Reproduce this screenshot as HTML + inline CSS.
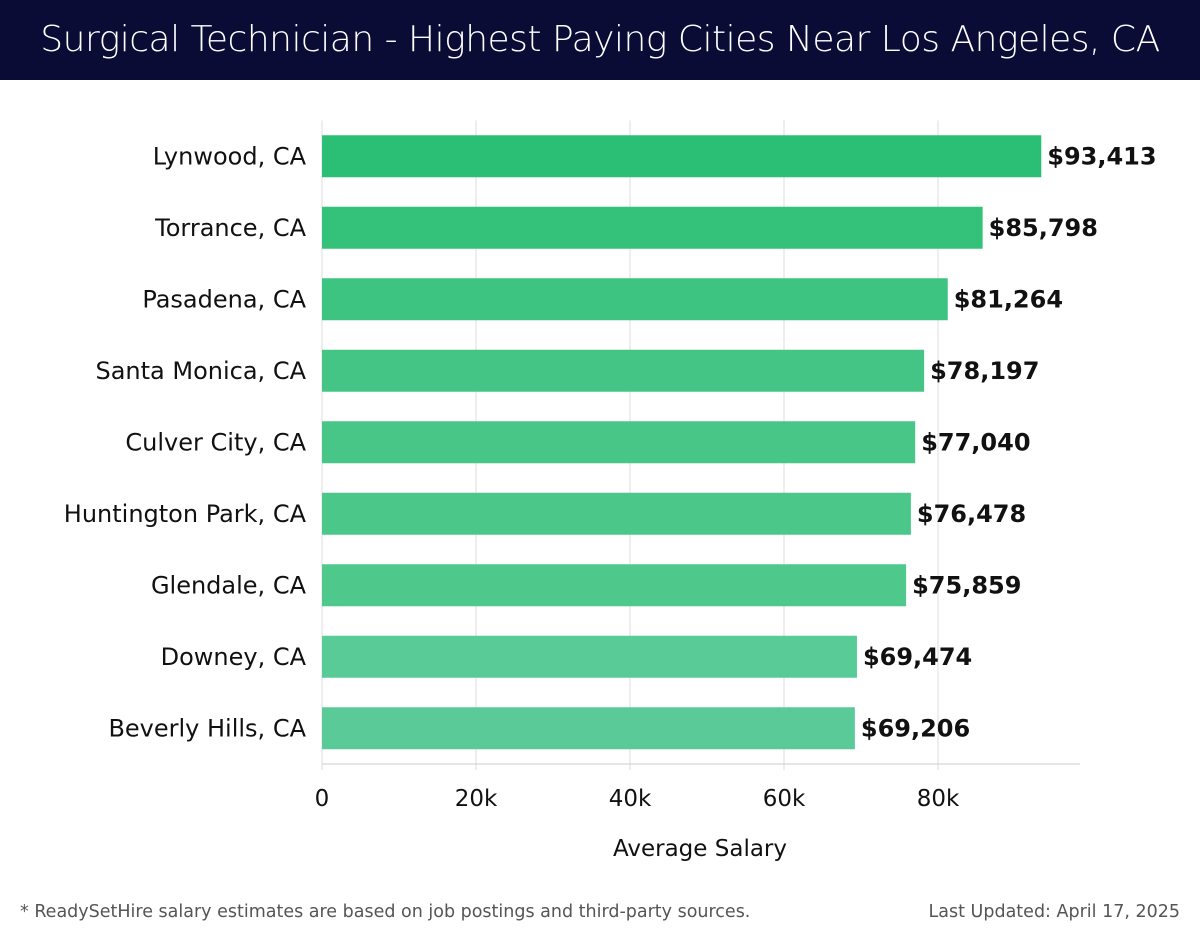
<!DOCTYPE html>
<html><head><meta charset="utf-8"><style>
body{margin:0;width:1200px;height:940px;background:#fff;font-family:"Liberation Sans","DejaVu Sans",sans-serif;overflow:hidden;position:relative}
#hdr{position:absolute;left:0;top:0;width:1200px;height:80px;background:#0b0c36;color:#fff;font-size:36px;text-align:center;line-height:80px;font-family:"DejaVu Sans",sans-serif;font-weight:300;letter-spacing:-0.5px}
.foot{position:absolute;top:902px;font-size:17.5px;color:#555;font-family:"DejaVu Sans",sans-serif}
</style></head><body>
<div id="hdr">Surgical Technician - Highest Paying Cities Near Los Angeles, CA</div>
<svg id="chart" width="1200" height="900" style="position:absolute;left:0;top:0"></svg>
<div class="foot" style="left:20px">* ReadySetHire salary estimates are based on job postings and third-party sources.</div>
<div class="foot" style="right:20px">Last Updated: April 17, 2025</div>
<script>
const cities=["Lynwood, CA","Torrance, CA","Pasadena, CA","Santa Monica, CA","Culver City, CA","Huntington Park, CA","Glendale, CA","Downey, CA","Beverly Hills, CA"];
const salaries=[93413,85798,81264,78197,77040,76478,75859,69474,69206];
const ticks=[0,20000,40000,60000,80000];
const tickLabels=["0","20k","40k","60k","80k"];
const colors=["#2bbf76","#34c27b","#3cc480","#44c585","#48c687","#4bc78a","#4ec88b","#58cb96","#5acb98"];
const NS="http://www.w3.org/2000/svg";
const svg=document.getElementById('chart');
const x0=322,pxPer=616/80000,yTop=120.5,band=71.5,bh=42,xRight=1080,yBottom=764;
const xs=v=>x0+v*pxPer;
const ys=i=>yTop+i*band+band/2;
function mk(t,a){const e=document.createElementNS(NS,t);for(const k in a)e.setAttribute(k,a[k]);svg.appendChild(e);return e;}
ticks.forEach((t,i)=>{
 const g=mk('line',{x1:xs(t),x2:xs(t),y1:yTop,y2:yBottom+6,stroke:'#dddddd','stroke-width':1});
 
 
 const l=mk('text',{x:xs(t),y:806,'text-anchor':'middle','font-size':23,fill:'#111','font-family':'DejaVu Sans, sans-serif'});
 l.textContent=tickLabels[i];
 
 
});
const ax=mk('line',{x1:x0,x2:xRight,y1:yBottom,y2:yBottom,stroke:'#cccccc','stroke-width':1});


const xt=mk('text',{x:700,y:856,'text-anchor':'middle','font-size':23,fill:'#111','font-family':'DejaVu Sans, sans-serif'});
xt.textContent='Average Salary';


cities.forEach((c,i)=>{
 const r=mk('rect',{x:x0,y:ys(i)-bh/2,width:xs(salaries[i])-x0,height:bh,fill:colors[i]});
 
 
 const lab=mk('text',{x:306,y:ys(i)+8,'text-anchor':'end','font-size':24,fill:'#111','font-family':'DejaVu Sans, sans-serif'});
 lab.textContent=c;
 
 
 const v=mk('text',{x:xs(salaries[i])+6,y:ys(i)+8,'font-size':24,'font-weight':'bold',fill:'#111','font-family':'DejaVu Sans, sans-serif'});
 v.textContent='$'+salaries[i].toLocaleString('en-US');
 
 
});
</script>
</body></html>
